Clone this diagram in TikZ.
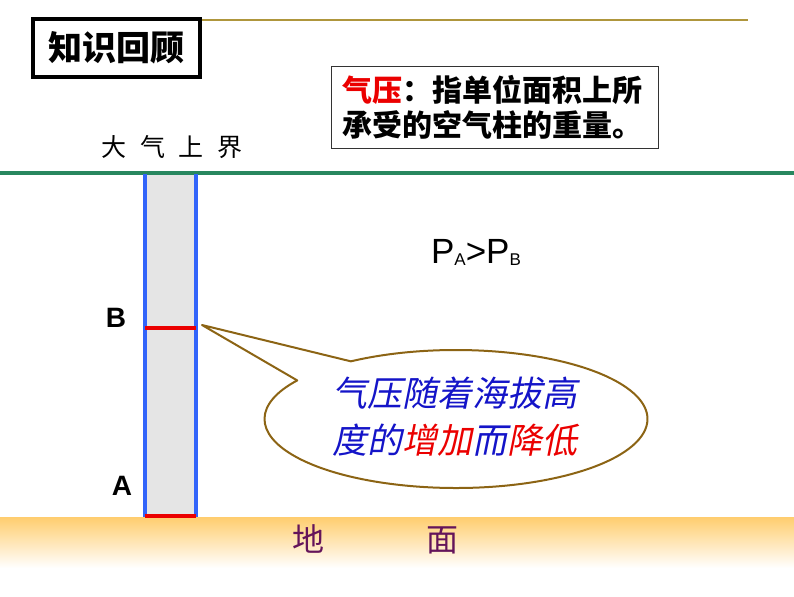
\documentclass[tikz,border=0pt]{standalone}
\usepackage{fontspec}
\setmainfont{Liberation Sans}
\newfontfamily\cjk{Noto Sans CJK SC}
\newfontfamily\cjkit[FakeSlant=0.2]{Noto Sans CJK SC}
\usetikzlibrary{calc}
\definecolor{goldline}{RGB}{175,150,60}
\definecolor{skygreen}{RGB}{40,135,95}
\definecolor{colblue}{RGB}{50,100,250}
\definecolor{barred}{RGB}{235,0,0}
\definecolor{bubbrown}{RGB}{140,100,20}
\definecolor{bubblue}{RGB}{20,20,200}
\definecolor{groundtone}{RGB}{255,205,110}
\definecolor{groundpurple}{RGB}{100,20,90}

\begin{document}
\begin{tikzpicture}[x=0.5pt,y=-0.5pt]
\tikzset{titlebox/.style={draw,line width=2pt,inner sep=0pt,minimum width=83.5pt,minimum height=29pt,font=\fontsize{17pt}{17pt}\cjk\bfseries},
         defbox/.style={draw=black!80,line width=0.5pt,anchor=north west,align=left,text width=152.5pt,inner xsep=5.5pt,inner ysep=4.5pt,font=\fontsize{15pt}{17.5pt}\cjk\bfseries},
         skytxt/.style={inner sep=0pt,font=\fontsize{12.5pt}{12.5pt}\cjk},
         colside/.style={draw=colblue,line width=1.8pt},
         bar/.style={draw=barred,line width=2.2pt},
         ptlab/.style={inner sep=0pt,font=\fontsize{14pt}{14pt}\bfseries},
         bubble/.style={draw=bubbrown,line width=1pt,fill=white,line join=round},
         bubtxt/.style={align=center,text=bubblue,inner sep=0pt,font=\fontsize{17.5pt}{23.5pt}\cjkit},
         groundtxt/.style={inner sep=0pt,text=groundpurple,font=\fontsize{16pt}{16pt}\cjk}}
\useasboundingbox (0,0) rectangle (794,596);
\draw[goldline,line width=0.8pt] (200,20) -- (748,20);
\node[titlebox] (title) at (116.5,48) {知识回顾};
\node[defbox] (def) at (331,66) {\textcolor{barred}{气压}：指单位面积上所\\承受的空气柱的重量。};
\node[skytxt] (sky) at (172,147) {大\hspace{7pt}气\hspace{7pt}上\hspace{7pt}界};
\shade[top color=groundtone,bottom color=white] (0,517) rectangle (794,568);
\fill[gray!20] (145,173) rectangle (196,517);
\draw[skygreen,line width=2pt] (0,172.5) -- (794,172.5);
\draw[colside] (145,174) -- (145,517);
\draw[colside] (196,174) -- (196,517);
\draw[bar] (145,328) -- (196,328);
\draw[bar] (145,516) -- (196,516);
\node[ptlab] (labB) at (116,318) {B};
\node[ptlab] (labA) at (122,486) {A};
\node[inner sep=0pt,anchor=base,font=\fontsize{17.5pt}{17.5pt}\selectfont] (pab) at (476,263)
  {P{\fontsize{8.5pt}{8.5pt}\selectfont\raisebox{-1pt}{A}}>P{\fontsize{8.5pt}{8.5pt}\selectfont\raisebox{-1pt}{B}}};
\coordinate (tip) at (202,325);
\coordinate (bub) at (456,419);
\draw[bubble] (tip) -- ($(bub)+(236.7:191.5 and 69)$) arc[start angle=236.7,end angle=574,x radius=191.5,y radius=69] -- cycle;
\node[bubtxt] (rule) at (455,417) {气压随着海拔高\\度的\textcolor{barred}{增加}而\textcolor{barred}{降低}};
\node[groundtxt] (ground) at (375.5,539) {地\hspace{51.5pt}面};
\end{tikzpicture}
\end{document}
